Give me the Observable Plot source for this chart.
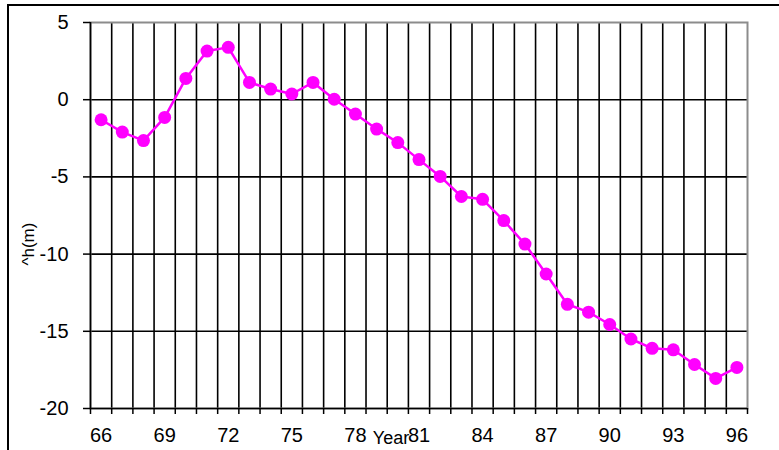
<!DOCTYPE html>
<html><head><meta charset="utf-8">
<script src="https://cdn.jsdelivr.net/npm/d3@7"></script>
<script src="https://cdn.jsdelivr.net/npm/@observablehq/plot@0.6"></script>
<style>
html,body{margin:0;padding:0;background:#fff;overflow:hidden;}
#wrap{position:relative;width:779px;height:450px;}
#border{position:absolute;left:7px;top:4px;width:800px;height:480px;border:2px solid #000;box-sizing:border-box;}
#chart{position:absolute;left:0;top:0;}
</style></head><body>
<div id="wrap"><div id="border"></div><div id="chart"></div></div>
<script>
const years = [66,67,68,69,70,71,72,73,74,75,76,77,78,79,80,81,82,83,84,85,86,87,88,89,90,91,92,93,94,95,96];
const dh = [-1.3,-2.1,-2.65,-1.15,1.38,3.15,3.39,1.12,0.69,0.37,1.12,0.03,-0.93,-1.9,-2.78,-3.88,-4.97,-6.27,-6.45,-7.83,-9.35,-11.29,-13.25,-13.76,-14.56,-15.5,-16.1,-16.2,-17.15,-18.05,-17.34];
const yTicks = [-20,-15,-10,-5,0,5];
const xTickLabels = [66,69,72,75,78,81,84,87,90,93,96];
const xLabel = "Year";
const yLabel = "^h(m)";

const data = years.map((y, i) => ({year: y, dh: dh[i]}));
const bounds = years.map(y => y - 0.5).concat([years[years.length - 1] + 0.5]);

const plot = Plot.plot({
  width: 779, height: 450,
  marginLeft: 90, marginRight: 32, marginTop: 22, marginBottom: 42,
  style: {fontFamily: "'Liberation Sans', Arial, sans-serif", fontSize: "20px", color: "#000", background: "transparent", overflow: "visible"},
  x: {type: "linear", domain: [bounds[0], bounds[bounds.length - 1]]},
  y: {domain: [yTicks[0], yTicks[yTicks.length - 1]]},
  marks: [
    Plot.ruleX(bounds.slice(1, -1), {y1: yTicks[0], y2: yTicks[yTicks.length - 1], stroke: "#000", strokeWidth: 1.6}),
    Plot.ruleY(yTicks.slice(1, -1), {stroke: "#000", strokeWidth: 1.6}),
    Plot.frame({stroke: "#8c8c8c", strokeWidth: 2}),
    Plot.ruleY([yTicks[0]], {stroke: "#000", strokeWidth: 1.6}),
    Plot.ruleX([bounds[0]], {stroke: "#000", strokeWidth: 1.6}),
    Plot.axisX({ticks: bounds, tickSize: 6, tickFormat: () => "", strokeWidth: 1.5, label: null}),
    Plot.axisX({ticks: xTickLabels, tickSize: 0, tickPadding: 19, label: null, fontSize: 20, tickFormat: d => String(d)}),
    Plot.axisY({ticks: yTicks, tickSize: 7, tickPadding: 15, strokeWidth: 1.5, label: null, fontSize: 20, tickFormat: d => String(d)}),
    Plot.line(data, {x: "year", y: "dh", stroke: "#ff00ff", strokeWidth: 2.5}),
    Plot.dot(data, {x: "year", y: "dh", r: 6.5, fill: "#ff00ff", stroke: "none"}),
    Plot.text([yLabel], {frameAnchor: "left", dx: -62, dy: 50, rotate: -90, fontSize: 17, lineAnchor: "middle"}),
    Plot.text([xLabel], {frameAnchor: "bottom", dx: -28, dy: 30, fontSize: 18, lineAnchor: "middle"})
  ]
});
document.getElementById("chart").appendChild(plot);
</script>
</body></html>
